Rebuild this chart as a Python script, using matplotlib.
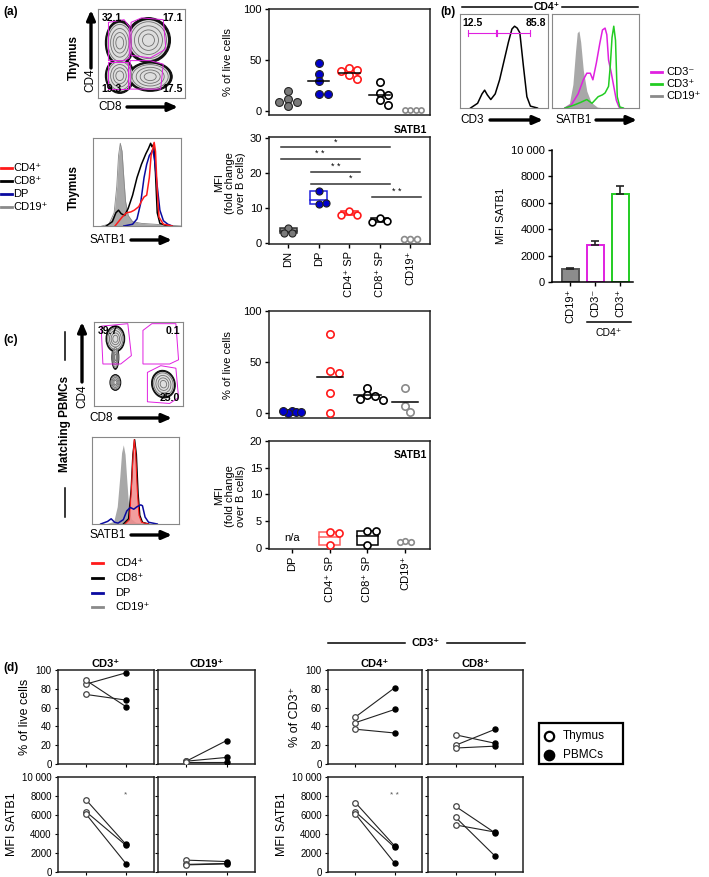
import matplotlib
matplotlib.use('Agg')
import matplotlib.pyplot as plt
from matplotlib.patches import Ellipse, Polygon, Rectangle

plt.rcParams['font.family'] = ['Liberation Sans', 'DejaVu Sans']
plt.rcParams['font.size'] = 7
plt.rcParams['axes.linewidth'] = 1.1

# ---------------- data ----------------
# (a) thymus subsets
a_cats = ['DN', 'DP', 'CD4⁺ SP', 'CD8⁺ SP', 'CD19⁺']
a_pct_dn = [20, 12, 9, 5, 9]
a_pct_dp = [47, 36, 29, 17, 17]
a_pct_cd4 = [42, 40, 39, 35, 31]
a_pct_cd8 = [28, 18, 16, 11, 6]
a_pct_cd19 = [1, 1, 1, 1]
a_mfi_dn = [4.2, 2.9, 2.8]
a_mfi_dp = [14.8, 11.0, 11.3]
a_mfi_cd4 = [9.2, 8.1, 8.0]
a_mfi_cd8 = [7.2, 6.3, 6.0]
a_mfi_cd19 = [1.0, 1.0, 1.0]
a_sig = [(0, 3, 27.4, '*'), (0, 2, 24.0, '* *'), (1, 2, 20.3, '* *'),
         (1, 3, 16.9, '*'), (3, 4, 13.1, '* *')]

# (b) CD4+ cells in PBMCs
b_cats = ['CD19⁺', 'CD3⁻', 'CD3⁺']
b_mfi = [950, 2800, 6700]
b_err = [100, 320, 600]

# (c) matching PBMCs
c_cats = ['DP', 'CD4⁺ SP', 'CD8⁺ SP', 'CD19⁺']
c_pct_dp = [2, 1, 0, 1, 2]
c_pct_cd4 = [77, 41, 39, 20, 0]
c_pct_cd8 = [25, 18, 17, 14, 13]
c_pct_cd19 = [25, 7, 1]
c_mfi_cd4 = [3.0, 2.7, 0.5]
c_mfi_cd8 = [3.1, 3.1, 0.5]
c_mfi_cd19 = [1.3, 1.2, 1.2]

# (d) paired thymus -> PBMCs
d_cols = ['CD3⁺', 'CD19⁺', 'CD4⁺', 'CD8⁺']
d_pct_thy = [[85, 89, 74], [3, 3, 2], [50, 44, 37], [31, 20, 17]]
d_pct_pbmc = [[97, 61, 68], [25, 7, 2], [81, 58, 33], [22, 37, 19]]
d_mfi_thy = [[7600, 6350, 6100], [1250, 800, 750], [7300, 6350, 6100], [6900, 5750, 4950]]
d_mfi_pbmc = [[2900, 2800, 880], [1100, 900, 850], [2750, 2600, 950], [4100, 1650, 4200]]
d_stars = ['*', '', '* *', '']

# histogram traces (fraction of plot box)
a_h_cd19_x = [0.10, 0.18, 0.24, 0.27, 0.29, 0.31, 0.33, 0.35, 0.37, 0.40, 0.45, 0.55, 0.70, 0.85, 1.0]
a_h_cd19_y = [0, 0.02, 0.15, 0.45, 0.80, 0.94, 0.85, 0.55, 0.28, 0.12, 0.05, 0.03, 0.02, 0.01, 0]
a_h_cd8_x = [0.15, 0.22, 0.26, 0.29, 0.32, 0.36, 0.40, 0.45, 0.50, 0.55, 0.60, 0.63, 0.655, 0.67, 0.69, 0.71, 0.73, 0.76, 0.85]
a_h_cd8_y = [0, 0.05, 0.15, 0.18, 0.14, 0.12, 0.20, 0.35, 0.55, 0.70, 0.82, 0.88, 0.94, 0.90, 0.93, 0.60, 0.15, 0.03, 0]
a_h_cd4_x = [0.25, 0.33, 0.38, 0.43, 0.47, 0.52, 0.55, 0.58, 0.61, 0.64, 0.66, 0.68, 0.695, 0.71, 0.73, 0.75, 0.80, 0.9]
a_h_cd4_y = [0, 0.10, 0.15, 0.16, 0.18, 0.22, 0.28, 0.33, 0.35, 0.55, 0.80, 0.88, 0.95, 0.85, 0.40, 0.10, 0.02, 0]
a_h_dp_x = [0.35, 0.45, 0.50, 0.54, 0.58, 0.61, 0.64, 0.66, 0.68, 0.70, 0.73, 0.76, 0.80, 0.85, 0.9]
a_h_dp_y = [0, 0.02, 0.08, 0.25, 0.55, 0.70, 0.80, 0.83, 0.87, 0.75, 0.45, 0.18, 0.06, 0.02, 0]

b_h_cd3_x = [0.12, 0.20, 0.25, 0.28, 0.31, 0.35, 0.40, 0.45, 0.50, 0.55, 0.59, 0.62, 0.65, 0.68, 0.72, 0.76, 0.80, 0.88]
b_h_cd3_y = [0, 0.05, 0.15, 0.19, 0.14, 0.09, 0.15, 0.30, 0.50, 0.70, 0.84, 0.87, 0.85, 0.80, 0.45, 0.12, 0.02, 0]
b_h_cd19_x = [0.12, 0.20, 0.24, 0.27, 0.29, 0.31, 0.33, 0.36, 0.40, 0.45, 0.52, 0.6]
b_h_cd19_y = [0, 0.05, 0.25, 0.60, 0.80, 0.82, 0.70, 0.40, 0.18, 0.06, 0.01, 0]
b_h_neg_x = [0.15, 0.22, 0.30, 0.36, 0.40, 0.44, 0.47, 0.51, 0.55, 0.58, 0.61, 0.63, 0.65, 0.68, 0.71, 0.74, 0.77, 0.8]
b_h_neg_y = [0, 0.03, 0.15, 0.30, 0.37, 0.37, 0.30, 0.48, 0.69, 0.83, 0.85, 0.78, 0.51, 0.38, 0.23, 0.08, 0.01, 0]
b_h_pos_x = [0.15, 0.25, 0.33, 0.40, 0.46, 0.53, 0.58, 0.61, 0.65, 0.67, 0.69, 0.71, 0.73, 0.75, 0.78, 0.82]
b_h_pos_y = [0, 0.03, 0.06, 0.09, 0.05, 0.12, 0.14, 0.16, 0.23, 0.45, 0.75, 0.87, 0.72, 0.12, 0.01, 0]

c_h_cd19_x = [0.15, 0.25, 0.29, 0.32, 0.34, 0.36, 0.38, 0.40, 0.42, 0.45, 0.50, 0.6, 0.8]
c_h_cd19_y = [0, 0.03, 0.2, 0.55, 0.82, 0.91, 0.80, 0.50, 0.22, 0.06, 0.02, 0.01, 0]
c_h_cd4_x = [0.38, 0.43, 0.45, 0.47, 0.485, 0.50, 0.52, 0.54, 0.57, 0.65]
c_h_cd4_y = [0, 0.05, 0.35, 0.75, 0.97, 0.85, 0.40, 0.10, 0.02, 0]
c_h_cd8_x = [0.36, 0.42, 0.45, 0.47, 0.49, 0.51, 0.53, 0.55, 0.58, 0.65]
c_h_cd8_y = [0, 0.06, 0.40, 0.80, 0.97, 0.80, 0.35, 0.10, 0.02, 0]
c_h_dp_x = [0.1, 0.18, 0.22, 0.26, 0.30, 0.36, 0.40, 0.44, 0.48, 0.52, 0.56, 0.58, 0.61, 0.65, 0.75]
c_h_dp_y = [0, 0.03, 0.06, 0.02, 0.01, 0.05, 0.15, 0.19, 0.17, 0.20, 0.22, 0.21, 0.08, 0.02, 0]

# flow populations (cx, cy, w, h, angle) and gates, fraction of plot box
a_pops = [(0.25, 0.62, 0.30, 0.46, 0), (0.58, 0.65, 0.46, 0.46, 0),
          (0.25, 0.25, 0.30, 0.36, 0), (0.60, 0.24, 0.46, 0.30, 0)]
a_gates = [[(0.12, 0.42), (0.12, 0.85), (0.3, 0.88), (0.36, 0.8), (0.36, 0.45), (0.3, 0.42)],
           [(0.38, 0.48), (0.38, 0.85), (0.5, 0.9), (0.75, 0.88), (0.78, 0.55), (0.6, 0.45)],
           [(0.12, 0.1), (0.12, 0.4), (0.35, 0.4), (0.35, 0.1)],
           [(0.37, 0.1), (0.37, 0.42), (0.6, 0.42), (0.75, 0.38), (0.72, 0.1)]]
a_gate_lbl = ['32.1', '17.1', '19.3', '17.5']
c_pops = [(0.24, 0.80, 0.19, 0.28, 0), (0.24, 0.58, 0.07, 0.26, 0),
          (0.24, 0.28, 0.11, 0.17, 0), (0.78, 0.26, 0.24, 0.30, 10)]
c_gates = [[(0.1, 0.5), (0.08, 0.95), (0.38, 0.98), (0.42, 0.6), (0.3, 0.5)],
           [(0.55, 0.5), (0.55, 0.9), (0.65, 0.98), (0.92, 0.98), (0.95, 0.55), (0.85, 0.5)],
           [(0.6, 0.05), (0.6, 0.4), (0.75, 0.48), (0.92, 0.45), (0.95, 0.1), (0.85, 0.03)]]
c_gate_lbl = ['39.7', '0.1', '', '25.0']

RED = '#ff1a1a'
BLUE = '#0a0aa0'
GRAY = '#8a8a8a'
MAG = '#e020e0'
GRN = '#22cc22'

W, H = 709, 877
fig = plt.figure(figsize=(W / 100, H / 100), dpi=100)


def px_axes(x0, y0, x1, y1):
    return fig.add_axes([x0 / W, 1 - y1 / H, (x1 - x0) / W, (y1 - y0) / H])


def swarm(vals, dx, dy, d):
    # dx, dy: pixels per data unit, d: marker spacing in pixels
    placed, offs = [], []
    for v in vals:
        for k in [0, 1, -1, 2, -2, 3, -3, 4, -4]:
            o = k * 0.55 * d / dx
            if all(((o - po) * dx) ** 2 + ((v - pv) * dy) ** 2 >= (d * 0.85) ** 2 for po, pv in placed):
                break
        placed.append((o, v))
        offs.append(o)
    return offs


def flow_hist_axes(ax):
    ax.set_xlim(0, 1)
    ax.set_ylim(0, 1)
    ax.set_xticks([])
    ax.set_yticks([])
    for s in ax.spines.values():
        s.set_color('#888888')
        s.set_linewidth(0.8)


def contour_axes(ax, pops, gates, labels):
    flow_hist_axes(ax)
    for cx, cy, w, h, ang in pops:
        ax.add_patch(Ellipse((cx, cy), w * 1.1, h * 1.1, angle=ang, fc='#111111', ec='#111111', lw=0.8, zorder=1))
    for cx, cy, w, h, ang in pops:
        ax.add_patch(Ellipse((cx, cy), w * 0.98, h * 0.98, angle=ang, fc='#dedede', ec='none', zorder=2))
    for cx, cy, w, h, ang in pops:
        for k in range(4):
            sc = 0.9 - k * 0.2
            ax.add_patch(Ellipse((cx, cy), w * sc, h * sc, angle=ang, fill=False, ec='#707070',
                                 lw=0.6, zorder=3))
    for g in gates:
        ax.add_patch(Polygon(g, closed=True, fill=False, ec=MAG, lw=0.7, zorder=4))
    pos = [(0.04, 0.95, 'left', 'top'), (0.97, 0.95, 'right', 'top'),
           (0.04, 0.04, 'left', 'bottom'), (0.97, 0.04, 'right', 'bottom')]
    for (x, y, ha, va), t in zip(pos, labels):
        ax.text(x, y, t, ha=ha, va=va, fontsize=7.5, fontweight='bold', transform=ax.transAxes, zorder=5)


def box_frame(ax, size=8):
    for s in ax.spines.values():
        s.set_color('#222222')
    ax.tick_params(length=3, width=1, labelsize=size, pad=2)


def draw_points(ax, x, vals, color, filled, dx, dy, d, ms):
    offs = swarm(vals, dx, dy, d)
    xs = [x + o for o in offs]
    if filled:
        ax.scatter(xs, vals, s=ms, c=color, edgecolors='#222222', linewidths=0.8, zorder=4)
    else:
        ax.scatter(xs, vals, s=ms, facecolors='white', edgecolors=color, linewidths=1.2, zorder=4)


def mean_line(ax, x, vals, w=0.35):
    m = sum(vals) / len(vals)
    ax.plot([x - w, x + w], [m, m], color='k', lw=1.1, zorder=5)


def float_box(ax, x, vals, ec, fc='none', w=0.55):
    lo, hi = min(vals), max(vals)
    ax.bar([x], [hi - lo], bottom=[lo], width=w, color=fc, edgecolor=ec, linewidth=1.1, zorder=2)
    m = sum(vals) / len(vals)
    ax.plot([x - w / 2, x + w / 2], [m, m], color=ec, lw=1.1, zorder=3)


# ---------------- (a) ----------------
ax = px_axes(98, 9, 185, 98)
contour_axes(ax, a_pops, a_gates, a_gate_lbl)

ax = px_axes(93, 138, 181, 226)
flow_hist_axes(ax)
ax.fill_between(a_h_cd19_x, a_h_cd19_y, color='#a8a8a8', lw=0)
ax.plot(a_h_cd19_x, a_h_cd19_y, color='#888888', lw=0.6)
ax.plot(a_h_cd8_x, a_h_cd8_y, color='k', lw=1.1)
ax.plot(a_h_dp_x, a_h_dp_y, color=BLUE, lw=1.1)
ax.plot(a_h_cd4_x, a_h_cd4_y, color=RED, lw=1.1)

# % of live cells, thymus
ax = px_axes(269, 9, 430, 115)
box_frame(ax)
ax.set_xlim(-0.63, 4.65)
ax.set_ylim(-3.9, 100)
ax.set_yticks([0, 50, 100])
ax.set_xticks([])
dx, dy = 30.5, 1.02
draw_points(ax, 0, a_pct_dn, '#7a7a7a', True, dx, dy, 8, 32)
draw_points(ax, 1, a_pct_dp, '#0000cc', True, dx, dy, 8, 32)
draw_points(ax, 2, a_pct_cd4, RED, False, dx, dy, 7, 28)
draw_points(ax, 3, a_pct_cd8, 'k', False, dx, dy, 8, 28)
draw_points(ax, 4, a_pct_cd19, GRAY, False, dx, dy, 5, 14)
for i, v in enumerate([a_pct_dp, a_pct_cd4, a_pct_cd8]):
    mean_line(ax, i + 1, v)

# MFI, thymus
ax = px_axes(269, 137, 430, 244)
box_frame(ax)
ax.set_xlim(-0.63, 4.65)
ax.set_ylim(-0.3, 30.3)
ax.set_yticks([0, 10, 20, 30])
ax.set_xticks(range(len(a_cats)))
ax.set_xticklabels(a_cats, rotation=90)
float_box(ax, 0, a_mfi_dn, '#333333', '#8c8c8c')
float_box(ax, 1, a_mfi_dp, '#2020dd')
float_box(ax, 2, a_mfi_cd4, RED)
float_box(ax, 3, a_mfi_cd8, 'k')
dy = 3.5
draw_points(ax, 0, a_mfi_dn, '#7a7a7a', True, dx, dy, 7, 26)
draw_points(ax, 1, a_mfi_dp, '#0000cc', True, dx, dy, 7, 26)
draw_points(ax, 2, a_mfi_cd4, RED, False, dx, dy, 7, 24)
draw_points(ax, 3, a_mfi_cd8, 'k', False, dx, dy, 7, 24)
draw_points(ax, 4, a_mfi_cd19, GRAY, False, dx, dy, 6, 18)
for x0, x1, y, s in a_sig:
    ax.plot([x0 - 0.25, x1 + 0.35], [y, y], color='#333333', lw=1.1)
    ax.text((x0 + x1) / 2 + 0.05, y + 0.2, s, ha='center', va='bottom', fontsize=6.5)
ax.text(0.98, 1.02, 'SATB1', transform=ax.transAxes, ha='right', va='bottom',
        fontsize=7.5, fontweight='bold')

# ---------------- (b) ----------------
ax = px_axes(460, 14, 548, 108)
flow_hist_axes(ax)
ax.plot(b_h_cd3_x, b_h_cd3_y, color='k', lw=1.1)
for gx0, gx1 in [(0.087, 0.405), (0.417, 0.80)]:
    ax.plot([gx0, gx1], [0.8, 0.8], color=MAG, lw=0.8)
    ax.plot([gx0, gx0], [0.77, 0.83], color=MAG, lw=0.8)
    ax.plot([gx1, gx1], [0.77, 0.83], color=MAG, lw=0.8)
ax.text(0.03, 0.96, '12.5', ha='left', va='top', fontsize=7.5, fontweight='bold', transform=ax.transAxes)
ax.text(0.98, 0.96, '85.8', ha='right', va='top', fontsize=7.5, fontweight='bold', transform=ax.transAxes)

ax = px_axes(552, 14, 639, 108)
flow_hist_axes(ax)
ax.fill_between(b_h_cd19_x, b_h_cd19_y, color='#a8a8a8', lw=0)
ax.plot(b_h_neg_x, b_h_neg_y, color=MAG, lw=1.1)
ax.plot(b_h_pos_x, b_h_pos_y, color=GRN, lw=1.1)

ax = px_axes(552, 150, 633, 282)
ax.spines['top'].set_visible(False)
ax.spines['right'].set_visible(False)
ax.tick_params(length=3, width=1, labelsize=8, pad=2)
ax.set_xlim(-0.72, 2.52)
ax.set_ylim(0, 10000)
ax.set_yticks(range(0, 10001, 2000))
ax.set_yticklabels(['0', '2000', '4000', '6000', '8000', '10 000'])
ax.bar(range(3), b_mfi, width=0.68, color=['#8c8c8c', 'white', 'white'],
       edgecolor=['#555555', MAG, GRN], linewidth=1.4, zorder=2)
ax.errorbar(range(3), b_mfi, yerr=[[0, 0, 0], b_err], fmt='none', ecolor='#222222',
            elinewidth=1.2, capsize=3, capthick=1.2, zorder=3)
ax.set_xticks(range(3))
ax.set_xticklabels(b_cats, rotation=90)
ax.set_ylabel('MFI SATB1', fontsize=8, labelpad=4)

# ---------------- (c) ----------------
ax = px_axes(94, 322, 183, 406)
contour_axes(ax, c_pops, c_gates, c_gate_lbl)

ax = px_axes(92, 437, 179, 524)
flow_hist_axes(ax)
ax.fill_between(c_h_cd19_x, c_h_cd19_y, color='#a8a8a8', lw=0)
ax.fill_between(c_h_cd4_x, c_h_cd4_y, color='#f08c8c', alpha=0.85, lw=0)
ax.plot(c_h_cd8_x, c_h_cd8_y, color='k', lw=1.0)
ax.plot(c_h_cd4_x, c_h_cd4_y, color=RED, lw=0.8)
ax.plot(c_h_dp_x, c_h_dp_y, color=BLUE, lw=1.1)

ax = px_axes(269, 311, 430, 418)
box_frame(ax)
ax.set_xlim(-0.61, 3.66)
ax.set_ylim(-4.9, 100)
ax.set_yticks([0, 50, 100])
ax.set_xticks([])
dx, dy = 37.7, 1.02
draw_points(ax, 0, c_pct_dp, '#0000cc', True, dx, dy, 4, 32)
draw_points(ax, 1, c_pct_cd4, RED, False, dx, dy, 8, 28)
draw_points(ax, 2, c_pct_cd8, 'k', False, dx, dy, 7, 28)
draw_points(ax, 3, c_pct_cd19, GRAY, False, dx, dy, 8, 28)
for i, v in enumerate([c_pct_cd4, c_pct_cd8, c_pct_cd19]):
    mean_line(ax, i + 1, v)

ax = px_axes(269, 441, 430, 549)
box_frame(ax)
ax.set_xlim(-0.61, 3.66)
ax.set_ylim(-0.2, 20)
ax.set_yticks([0, 5, 10, 15, 20])
ax.set_xticks(range(len(c_cats)))
ax.set_xticklabels(c_cats, rotation=90)
ax.text(0, 1.0, 'n/a', ha='center', va='bottom', fontsize=8)
float_box(ax, 1, c_mfi_cd4, '#ff6060')
float_box(ax, 2, c_mfi_cd8, 'k')
dy = 5.35
draw_points(ax, 1, c_mfi_cd4, RED, False, dx, dy, 8, 26)
draw_points(ax, 2, c_mfi_cd8, 'k', False, dx, dy, 8, 26)
draw_points(ax, 3, c_mfi_cd19, GRAY, False, dx, dy, 5, 16)
ax.text(0.98, 0.92, 'SATB1', transform=ax.transAxes, ha='right', va='top',
        fontsize=7.5, fontweight='bold')

# ---------------- (d) ----------------
d_x = [(58, 154), (158, 255), (328, 422), (428, 523)]
d_rows = [(670, 764), (777, 872)]
for j, (x0, x1) in enumerate(d_x):
    for r, (y0, y1) in enumerate(d_rows):
        ax = px_axes(x0, y0, x1, y1)
        box_frame(ax, 7)
        ax.tick_params(length=2.5, width=0.8)
        ax.set_xlim(0.3, 2.7)
        ax.set_xticks([1, 2])
        ax.set_xticklabels([])
        if r == 0:
            thy, pb = d_pct_thy[j], d_pct_pbmc[j]
            ax.set_ylim(0, 100)
            ax.set_yticks(range(0, 101, 20))
        else:
            thy, pb = d_mfi_thy[j], d_mfi_pbmc[j]
            ax.set_ylim(0, 10000)
            ax.set_yticks(range(0, 10001, 2000))
            ax.set_yticklabels(['0', '2000', '4000', '6000', '8000', '10 000'])
            if d_stars[j]:
                ax.text(2, 7700, d_stars[j], ha='center', va='bottom', fontsize=6, color='#555555')
        if j in (1, 3):
            ax.set_yticklabels([])
        for a, b in zip(thy, pb):
            ax.plot([1, 2], [a, b], color='#222222', lw=0.8, zorder=2)
        ax.scatter([1] * len(thy), thy, s=16, facecolors='white', edgecolors='#444444', linewidths=0.9, zorder=3)
        ax.scatter([2] * len(pb), pb, s=13, c='k', zorder=3)
        if r == 0:
            ax.set_title(d_cols[j], fontsize=8, fontweight='bold', pad=2)
        if j in (0, 2):
            if r == 0:
                lab = '% of live cells' if j == 0 else '% of CD3⁺'
            else:
                lab = 'MFI SATB1'
            ax.set_ylabel(lab, fontsize=9, labelpad=3)

# ---------------- overlay: labels, arrows, legends ----------------
ov = fig.add_axes([0, 0, 1, 1], zorder=10)
ov.set_xlim(0, W)
ov.set_ylim(H, 0)
ov.axis('off')


def arrow(x0, y0, x1, y1):
    ov.annotate('', xy=(x1, y1), xytext=(x0, y0),
                arrowprops=dict(arrowstyle='-|>,head_length=0.8,head_width=0.35', lw=2.4,
                                color='k', shrinkA=0, shrinkB=0))


def legend_lines(x, ys, labels, colors, tx):
    for y, t, c in zip(ys, labels, colors):
        ov.plot([x, x + 11], [y, y], color=c, lw=2)
        ov.text(tx, y, t, ha='left', va='center', fontsize=8)


bold = dict(fontweight='bold')
ov.text(3, 12, '(a)', fontsize=8.5, va='center', **bold)
ov.text(3, 340, '(c)', fontsize=8.5, va='center', **bold)
ov.text(3, 668, '(d)', fontsize=8.5, va='center', **bold)
ov.text(440, 12, '(b)', fontsize=8.5, va='center', **bold)

# (a) flow labels
ov.text(74, 57, 'Thymus', rotation=90, ha='center', va='center', fontsize=8.5, **bold)
ov.text(90, 80, 'CD4', rotation=90, ha='center', va='center', fontsize=8.5)
arrow(91, 68, 91, 10)
ov.text(98, 107, 'CD8', ha='left', va='center', fontsize=8.5)
arrow(127, 107, 178, 107)
ov.text(74, 188, 'Thymus', rotation=90, ha='center', va='center', fontsize=8.5, **bold)
legend_lines(1, [168, 181, 194, 207], ['CD4⁺', 'CD8⁺', 'DP', 'CD19⁺'],
             [RED, 'k', BLUE, GRAY], 13)
ov.text(90, 240, 'SATB1', ha='left', va='center', fontsize=8.5)
arrow(131, 240, 172, 240)
ov.text(228, 62, '% of live cells', rotation=90, ha='center', va='center', fontsize=8)
ov.text(230, 183, 'MFI\n(fold change\nover B cells)', rotation=90, ha='center', va='center',
        fontsize=8, linespacing=1.1)

# (b) labels
ov.plot([462, 532], [7, 7], color='k', lw=1.1)
ov.plot([562, 638], [7, 7], color='k', lw=1.1)
ov.text(547, 7, 'CD4⁺', ha='center', va='center', fontsize=7.5, **bold)
ov.text(460, 120, 'CD3', ha='left', va='center', fontsize=8.5)
arrow(490, 120, 543, 120)
ov.text(555, 120, 'SATB1', ha='left', va='center', fontsize=8.5)
arrow(596, 120, 637, 120)
legend_lines(651, [72, 84, 96], ['CD3⁻', 'CD3⁺', 'CD19⁺'], [MAG, GRN, GRAY], 666)
ov.plot([587, 631], [322, 322], color='k', lw=1.1)
ov.text(609, 333, 'CD4⁺', ha='center', va='center', fontsize=7.5)

# (c) labels
ov.plot([65, 65], [332, 360], color='k', lw=1.1)
ov.plot([65, 65], [488, 517], color='k', lw=1.1)
ov.text(65, 424, 'Matching PBMCs', rotation=90, ha='center', va='center', fontsize=8.5, **bold)
ov.text(82, 396, 'CD4', rotation=90, ha='center', va='center', fontsize=8.5)
arrow(82, 382, 82, 322)
ov.text(89, 418, 'CD8', ha='left', va='center', fontsize=8.5)
arrow(119, 418, 172, 418)
ov.text(90, 535, 'SATB1', ha='left', va='center', fontsize=8.5)
arrow(131, 535, 172, 535)
legend_lines(92, [563, 578, 593, 607], ['CD4⁺', 'CD8⁺', 'DP', 'CD19⁺'],
             [RED, 'k', BLUE, GRAY], 115)
ov.text(228, 365, '% of live cells', rotation=90, ha='center', va='center', fontsize=8)
ov.text(230, 496, 'MFI\n(fold change\nover B cells)', rotation=90, ha='center', va='center',
        fontsize=8, linespacing=1.1)

# (d) bracket and legend
ov.plot([328, 405], [643, 643], color='k', lw=1.1)
ov.plot([447, 525], [643, 643], color='k', lw=1.1)
ov.text(426, 643, 'CD3⁺', ha='center', va='center', fontsize=8, **bold)
ov.add_patch(Rectangle((539, 723), 84, 41, fill=False, ec='k', lw=1.6))
ov.scatter([549], [736], s=45, facecolors='white', edgecolors='k', linewidths=1.6)
ov.scatter([549], [755], s=55, c='k')
ov.text(563, 736, 'Thymus', ha='left', va='center', fontsize=8.5)
ov.text(563, 755, 'PBMCs', ha='left', va='center', fontsize=8.5)

fig.savefig('out.png', dpi=100)
